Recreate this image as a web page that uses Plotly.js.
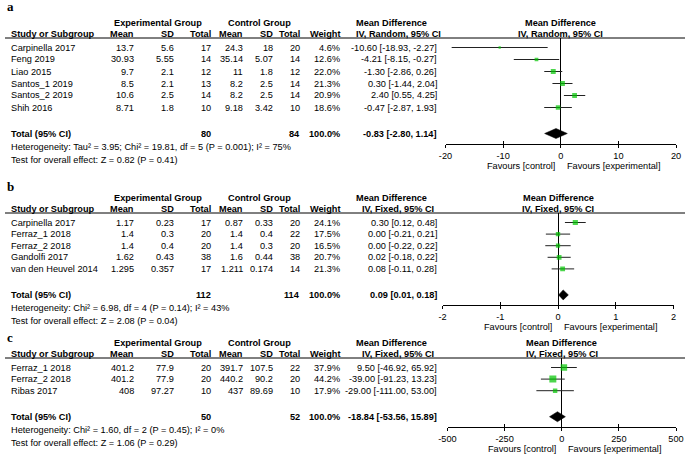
<!DOCTYPE html>
<html>
<head>
<meta charset="utf-8">
<script src="https://cdn.plot.ly/plotly-3.0.1.min.js"></script>
<style>
  html, body { margin: 0; padding: 0; background: #fff; }
  #chart { width: 685px; height: 465px; }
</style>
</head>
<body>
<div id="chart"></div>
<script>
// ===== 数据：图 a =====
const studiesA = ['Carpinella 2017', 'Feng 2019', 'Liao 2015', 'Santos_1 2019', 'Santos_2 2019', 'Shih 2016'];
const expMeanA = [13.7, 30.93, 9.7, 8.5, 10.6, 8.71];
const expSdA = [5.6, 5.55, 2.1, 2.1, 2.5, 1.8];
const expNA = [17, 14, 12, 13, 14, 10];
const ctlMeanA = [24.3, 35.14, 11, 8.2, 8.2, 9.18];
const ctlSdA = [18, 5.07, 1.8, 2.5, 2.5, 3.42];
const ctlNA = [20, 14, 12, 14, 14, 10];
const weightA = [4.6, 12.6, 22.0, 21.3, 20.9, 18.6];
const mdA = [-10.60, -4.21, -1.30, 0.30, 2.40, -0.47];
const loA = [-18.93, -8.15, -2.86, -1.44, 0.55, -2.87];
const hiA = [-2.27, -0.27, 0.26, 2.04, 4.25, 1.93];
const totalA = [-0.83, -2.80, 1.14];
const ticksA = [-20, -10, 0, 10, 20];
const methodA = 'IV, Random, 95% CI';
const hetA = 'Heterogeneity: Tau² = 3.95; Chi² = 19.81, df = 5 (P = 0.001); I² = 75%';
const testA = 'Test for overall effect: Z = 0.82 (P = 0.41)';

// ===== 数据：图 b =====
const studiesB = ['Carpinella 2017', 'Ferraz_1 2018', 'Ferraz_2 2018', 'Gandolfi 2017', 'van den Heuvel 2014'];
const expMeanB = [1.17, 1.4, 1.4, 1.62, 1.295];
const expSdB = [0.23, 0.3, 0.4, 0.43, 0.357];
const expNB = [17, 20, 20, 38, 17];
const ctlMeanB = [0.87, 1.4, 1.4, 1.6, 1.211];
const ctlSdB = [0.33, 0.4, 0.3, 0.44, 0.174];
const ctlNB = [20, 22, 20, 38, 14];
const weightB = [24.1, 17.5, 16.5, 20.7, 21.3];
const mdB = [0.30, 0.00, 0.00, 0.02, 0.08];
const loB = [0.12, -0.21, -0.22, -0.18, -0.11];
const hiB = [0.48, 0.21, 0.22, 0.22, 0.28];
const totalB = [0.09, 0.01, 0.18];
const ticksB = [-2, -1, 0, 1, 2];
const methodB = 'IV, Fixed, 95% CI';
const hetB = 'Heterogeneity: Chi² = 6.98, df = 4 (P = 0.14); I² = 43%';
const testB = 'Test for overall effect: Z = 2.08 (P = 0.04)';

// ===== 数据：图 c =====
const studiesC = ['Ferraz_1 2018', 'Ferraz_2 2018', 'Ribas 2017'];
const expMeanC = [401.2, 401.2, 408];
const expSdC = [77.9, 77.9, 97.27];
const expNC = [20, 20, 10];
const ctlMeanC = [391.7, 440.2, 437];
const ctlSdC = [107.5, 90.2, 89.69];
const ctlNC = [22, 20, 10];
const weightC = [37.9, 44.2, 17.9];
const mdC = [9.50, -39.00, -29.00];
const loC = [-46.92, -91.23, -111.00];
const hiC = [65.92, 13.23, 53.00];
const totalC = [-18.84, -53.56, 15.89];
const ticksC = [-500, -250, 0, 250, 500];
const methodC = 'IV, Fixed, 95% CI';
const hetC = 'Heterogeneity: Chi² = 1.60, df = 2 (P = 0.45); I² = 0%';
const testC = 'Test for overall effect: Z = 1.06 (P = 0.29)';

// ===== 版式 =====
const W = 685, H = 465;
const FONT = '"Liberation Sans", Arial, Helvetica, sans-serif';
const FS = 9.2;
const GREEN = '#00c400';

const panelData = [
    { studies: studiesA, expMean: expMeanA, expSd: expSdA, expN: expNA, ctlMean: ctlMeanA, ctlSd: ctlSdA, ctlN: ctlNA,
      weight: weightA, md: mdA, lo: loA, hi: hiA, total: totalA, ticks: ticksA, method: methodA, het: hetA, test: testA },
    { studies: studiesB, expMean: expMeanB, expSd: expSdB, expN: expNB, ctlMean: ctlMeanB, ctlSd: ctlSdB, ctlN: ctlNB,
      weight: weightB, md: mdB, lo: loB, hi: hiB, total: totalB, ticks: ticksB, method: methodB, het: hetB, test: testB },
    { studies: studiesC, expMean: expMeanC, expSd: expSdC, expN: expNC, ctlMean: ctlMeanC, ctlSd: ctlSdC, ctlN: ctlNC,
      weight: weightC, md: mdC, lo: loC, hi: hiC, total: totalC, ticks: ticksC, method: methodC, het: hetC, test: testC }
];

// 每个面板的位置 (像素)
const panelPos = [
    { label: 'a', labelY: 7, top: 23, pitch: 12, xDom: [445.5, 676] },
    { label: 'b', labelY: 187, top: 198, pitch: 11.6, xDom: [442.5, 673.5] },
    { label: 'c', labelY: 337, top: 343, pitch: 11.6, xDom: [447.5, 676] }
];

// 表格列位置 (数值列为右边界)
const COL = { study: 9, expMean: 136, expSd: 176, expN: 213, ctlMean: 245, ctlSd: 275, ctlN: 302,
              weight: 342, md: 439, expHead: 158, ctlHead: 259, mdHead: 391, mdMethod: 398 };

const toX = v => v / W;
const toY = v => 1 - v / H;
const bold = s => '<b>' + s + '</b>';
const fmt2 = v => v.toFixed(2);
const ciText = (m, l, h) => `${fmt2(m)} [${fmt2(l)}, ${fmt2(h)}]`;
const sum = arr => arr.reduce((s, v) => s + v, 0);

function note(x, y, text, align, extra) {
    return Object.assign({
        xref: 'paper', yref: 'paper', x: toX(x), y: toY(y),
        xanchor: align, yanchor: 'middle', text: text, showarrow: false,
        font: { family: FONT, size: FS, color: '#000' }
    }, extra || {});
}

const traces = [];
const annotations = [];
const shapes = [];
const layout = {
    width: W, height: H,
    margin: { l: 0, r: 0, t: 0, b: 0 },
    paper_bgcolor: '#fff', plot_bgcolor: 'rgba(0,0,0,0)',
    showlegend: false,
    font: { family: FONT, size: FS, color: '#000' }
};

panelData.forEach((d, i) => {
    const p = panelPos[i];
    const sfx = i === 0 ? '' : String(i + 1);
    const xName = 'x' + sfx, yName = 'y' + sfx;
    const tickAx = 'x' + (i + 4);

    const h1 = p.top, h2 = h1 + 11, rule = h1 + 15, row0 = h1 + 24.5;
    const n = d.studies.length;
    const rowPx = k => row0 + k * p.pitch;
    const totalRow = (n - 1) + 26 / p.pitch;
    const totalPx = rowPx(totalRow);
    const axisPx = totalPx + 10;

    // 面板字母
    annotations.push(note(5, p.labelY, bold(p.label), 'left',
        { font: { family: '"Liberation Serif", "Times New Roman", serif', size: 13, color: '#000' } }));

    // 表头
    annotations.push(note(COL.expHead, h1, bold('Experimental Group'), 'center'));
    annotations.push(note(COL.ctlHead, h1, bold('Control Group'), 'center'));
    annotations.push(note(COL.mdHead, h1, bold('Mean Difference'), 'center'));
    annotations.push(note(0, h1, bold('Mean Difference'), 'center', { xref: xName, x: 0 }));
    annotations.push(note(COL.study, h2, bold('Study or Subgroup'), 'left'));
    [['Mean', COL.expMean], ['SD', COL.expSd], ['Total', COL.expN], ['Mean', COL.ctlMean],
     ['SD', COL.ctlSd], ['Total', COL.ctlN], ['Weight', COL.weight]].forEach(([t, x]) => {
        annotations.push(note(x, h2, bold(t), 'right'));
    });
    annotations.push(note(COL.mdMethod, h2, bold(d.method), 'center'));
    annotations.push(note(0, h2, bold(d.method), 'center', { xref: xName, x: 0 }));

    shapes.push({ type: 'line', xref: 'paper', yref: 'paper', x0: toX(5), x1: 1, y0: toY(rule), y1: toY(rule),
                  line: { color: '#000', width: 1 } });

    // 研究行
    d.studies.forEach((s, k) => {
        const y = rowPx(k);
        annotations.push(note(COL.study, y, s, 'left'));
        annotations.push(note(COL.expMean, y, String(d.expMean[k]), 'right'));
        annotations.push(note(COL.expSd, y, String(d.expSd[k]), 'right'));
        annotations.push(note(COL.expN, y, String(d.expN[k]), 'right'));
        annotations.push(note(COL.ctlMean, y, String(d.ctlMean[k]), 'right'));
        annotations.push(note(COL.ctlSd, y, String(d.ctlSd[k]), 'right'));
        annotations.push(note(COL.ctlN, y, String(d.ctlN[k]), 'right'));
        annotations.push(note(COL.weight, y, d.weight[k].toFixed(1) + '%', 'right'));
        annotations.push(note(COL.md, y, ciText(d.md[k], d.lo[k], d.hi[k]), 'right'));
    });

    // 合计行
    annotations.push(note(COL.study, totalPx, bold('Total (95% CI)'), 'left'));
    annotations.push(note(COL.expN, totalPx, bold(String(sum(d.expN))), 'right'));
    annotations.push(note(COL.ctlN, totalPx, bold(String(sum(d.ctlN))), 'right'));
    annotations.push(note(COL.weight, totalPx, bold('100.0%'), 'right'));
    annotations.push(note(COL.md, totalPx, bold(ciText(d.total[0], d.total[1], d.total[2])), 'right'));
    annotations.push(note(COL.study, totalPx + 13.5, d.het, 'left'));
    annotations.push(note(COL.study, totalPx + 26, d.test, 'left'));

    // Favours 标签
    annotations.push(note(0, axisPx + 22, 'Favours [control]', 'right', { xref: xName, x: 0, xshift: -4 }));
    annotations.push(note(0, axisPx + 22, 'Favours [experimental]', 'left', { xref: xName, x: 0, xshift: 4 }));

    // 方块 + 置信区间
    traces.push({
        type: 'scatter', mode: 'markers', xaxis: xName, yaxis: yName,
        x: d.md, y: d.studies.map((_, k) => k),
        marker: { symbol: 'square', color: GREEN, size: d.weight.map(w => 1.05 * Math.sqrt(w)), line: { width: 0 } },
        error_x: {
            type: 'data', symmetric: false,
            array: d.hi.map((h, k) => h - d.md[k]),
            arrayminus: d.lo.map((l, k) => d.md[k] - l),
            width: 0, thickness: 1, color: '#222'
        },
        hoverinfo: 'skip'
    });

    // 合计菱形
    const dh = 5 / p.pitch;
    traces.push({
        type: 'scatter', mode: 'lines', xaxis: xName, yaxis: yName,
        x: [d.total[1], d.total[0], d.total[2], d.total[0], d.total[1]],
        y: [totalRow, totalRow - dh, totalRow, totalRow + dh, totalRow],
        fill: 'toself', fillcolor: '#000', line: { color: '#000', width: 0.5 },
        hoverinfo: 'skip'
    });

    // 仅用于画向上刻度的叠加轴
    traces.push({ type: 'scatter', mode: 'markers', x: [], y: [], xaxis: tickAx, yaxis: yName, hoverinfo: 'skip' });

    const range = [d.ticks[0], d.ticks[d.ticks.length - 1]];
    layout['xaxis' + sfx] = {
        domain: [toX(p.xDom[0]), toX(p.xDom[1])], range: range, anchor: yName,
        tickmode: 'array', tickvals: d.ticks, ticktext: d.ticks.map(String),
        ticks: 'outside', ticklen: 3, tickwidth: 1, tickcolor: '#000',
        showline: true, linecolor: '#000', linewidth: 1,
        showgrid: false, zeroline: true, zerolinecolor: '#000', zerolinewidth: 1,
        tickfont: { family: FONT, size: FS, color: '#000' }, fixedrange: true
    };
    layout['xaxis' + (i + 4)] = {
        overlaying: xName, anchor: yName, side: 'bottom', range: range,
        tickmode: 'array', tickvals: d.ticks, ticks: 'inside', ticklen: 3, tickwidth: 1, tickcolor: '#000',
        showticklabels: false, showline: false, showgrid: false, zeroline: false, fixedrange: true
    };
    layout['yaxis' + sfx] = {
        domain: [toY(axisPx), toY(rule)],
        range: [(axisPx - row0) / p.pitch, (rule - row0) / p.pitch],
        visible: false, showgrid: false, zeroline: false, fixedrange: true
    };
});

layout.annotations = annotations;
layout.shapes = shapes;

Plotly.newPlot('chart', traces, layout, { displayModeBar: false, staticPlot: true });
</script>
</body>
</html>
